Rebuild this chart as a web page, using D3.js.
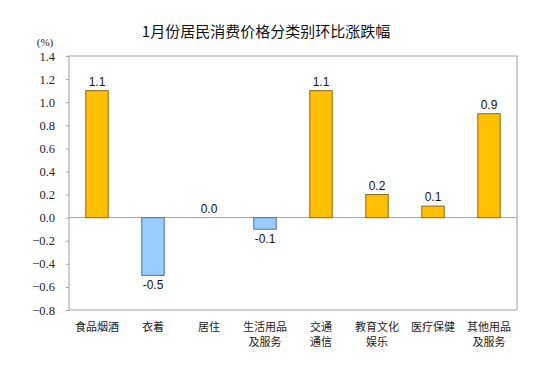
<!DOCTYPE html>
<html><head><meta charset="utf-8">
<script src="https://cdn.jsdelivr.net/npm/d3@7"></script>
<style>body{margin:0;background:#fff}</style>
</head><body>
<svg id="c" width="552" height="388"></svg>
<script>
const categories = [["食品烟酒"],["衣着"],["居住"],["生活用品","及服务"],["交通","通信"],["教育文化","娱乐"],["医疗保健"],["其他用品","及服务"]];
const values = [1.1, -0.5, 0.0, -0.1, 1.1, 0.2, 0.1, 0.9];
const yTicks = [1.4,1.2,1.0,0.8,0.6,0.4,0.2,0.0,-0.2,-0.4,-0.6,-0.8];
const title = "1月份居民消费价格分类别环比涨跌幅";

const svg = d3.select("#c");
const L=69, R=517, T=56, B=310;
const x = d3.scaleBand().domain(d3.range(categories.length)).range([L,R]).paddingInner(0.6).paddingOuter(0.3);
const y = d3.scaleLinear().domain([-0.8,1.4]).range([B,T]);

svg.append("text").attr("x",266).attr("y",37).attr("text-anchor","middle")
  .attr("font-family","'Noto Sans CJK SC', sans-serif").attr("font-size",15).attr("fill","#111").text(title);
svg.append("text").attr("x",45).attr("y",46).attr("text-anchor","middle")
  .attr("font-family","'Liberation Serif', serif").attr("font-size",11).attr("fill","#222").text("(%)");

svg.append("rect").attr("x",L).attr("y",T).attr("width",R-L).attr("height",B-T)
  .attr("fill","none").attr("stroke","#a0a0a0").attr("stroke-width",1);

const ax = svg.append("g").attr("transform",`translate(${L},0)`)
  .call(d3.axisLeft(y).tickValues(yTicks).tickSize(3).tickFormat(d3.format(".1f")));
ax.select(".domain").remove();
ax.selectAll("line").attr("stroke","#a0a0a0");
ax.selectAll("text").attr("font-family","'Liberation Serif', serif").attr("font-size",12.5).attr("fill","#222").attr("x",-14);

svg.append("line").attr("x1",L).attr("x2",R).attr("y1",y(0)).attr("y2",y(0)).attr("stroke","#a0a0a0");

svg.selectAll("rect.bar").data(values).join("rect").attr("class","bar")
  .attr("x",(d,i)=>x(i)).attr("width",x.bandwidth())
  .attr("y",d=>y(Math.max(0,d))).attr("height",d=>Math.abs(y(d)-y(0)))
  .attr("fill",d=>d>=0?"#FFC000":"#99CCFF").attr("stroke",d=>d>=0?"#8B6A10":"#4F6E9A").attr("stroke-width",1)
  .style("display",d=>d===0?"none":null);

svg.selectAll("text.val").data(values).join("text").attr("class","val")
  .attr("x",(d,i)=>x(i)+x.bandwidth()/2)
  .attr("y",d=>d>=0?y(d)-5:y(d)+14)
  .attr("text-anchor","middle").attr("font-family","'Liberation Sans', Arial, sans-serif").attr("font-size",12).attr("fill","#111")
  .text(d=>d.toFixed(1));

const cg = svg.selectAll("g.cat").data(categories).join("g").attr("class","cat");
cg.each(function(lines,i){
  lines.forEach((t,j)=>{
    d3.select(this).append("text").attr("x",x(i)+x.bandwidth()/2).attr("y",331+j*15)
      .attr("text-anchor","middle").attr("font-family","'Noto Sans CJK SC', sans-serif").attr("font-size",11).attr("fill","#222").text(t);
  });
});
</script>
</body></html>
